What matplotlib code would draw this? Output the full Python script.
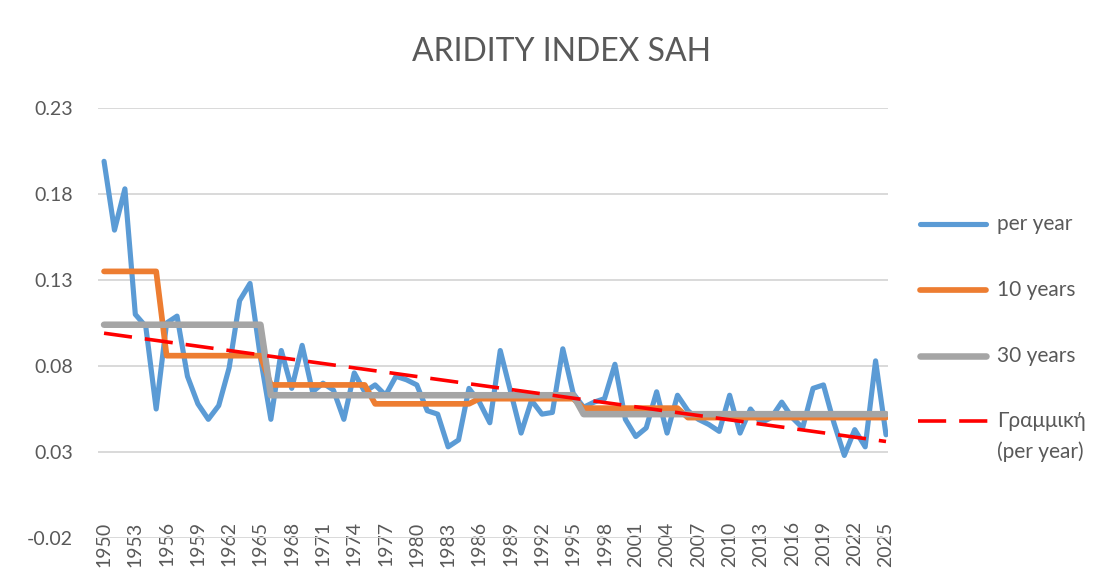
import matplotlib
matplotlib.use("Agg")
import matplotlib.pyplot as plt
from matplotlib.lines import Line2D
import numpy as np

plt.rcParams['font.family'] = ['Lato', 'Noto Sans', 'DejaVu Sans']

# aridity index per year, 1950 - 2025
years = np.arange(1950, 2026)
per_year = [0.199, 0.159, 0.183, 0.110, 0.103, 0.055, 0.105, 0.109, 0.074, 0.058,
            0.049, 0.057, 0.079, 0.118, 0.128, 0.085, 0.049, 0.089, 0.067, 0.092,
            0.065, 0.070, 0.066, 0.049, 0.076, 0.065, 0.069, 0.063, 0.074, 0.072,
            0.069, 0.054, 0.052, 0.033, 0.037, 0.067, 0.059, 0.047, 0.089, 0.065,
            0.041, 0.060, 0.052, 0.053, 0.090, 0.064, 0.056, 0.059, 0.061, 0.081,
            0.049, 0.039, 0.044, 0.065, 0.041, 0.063, 0.054, 0.049, 0.046, 0.042,
            0.063, 0.041, 0.055, 0.047, 0.050, 0.059, 0.050, 0.044, 0.067, 0.069,
            0.047, 0.028, 0.043, 0.033, 0.083, 0.040]

# 10 year periods (first one is 1950-1955)
ten_len = [6, 10, 10, 10, 10, 10, 10, 10]
ten_val = [0.135, 0.086, 0.069, 0.058, 0.061, 0.0555, 0.050, 0.050]

# 30 year periods (first one is 1950-1965)
thirty_len = [16, 30, 30]
thirty_val = [0.104, 0.063, 0.052]

ten_years = np.repeat(ten_val, ten_len)
thirty_years = np.repeat(thirty_val, thirty_len)

# linear trendline of per year series
coef = np.polyfit(years, per_year, 1)
trend = np.polyval(coef, years)

txt = '#595959'
W, H = 1109, 574

fig = plt.figure(figsize=(W / 100, H / 100), dpi=100)
ax = fig.add_axes([98 / W, 36 / H, 790 / W, 430 / H])

ax.plot(years, per_year, color='#5B9BD5', lw=3.7, solid_capstyle='round', solid_joinstyle='round', zorder=3)
ax.plot(years, ten_years, color='#ED7D31', lw=4.1, solid_capstyle='round', solid_joinstyle='round', zorder=4)
ax.plot(years, thirty_years, color='#A5A5A5', lw=4.7, solid_capstyle='round', solid_joinstyle='round', zorder=5)
ax.plot(years, trend, color='#FF0000', lw=2.6, dashes=(7.8, 3.6), zorder=6)

ax.set_xlim(1949.42, 2025.19)
ax.set_ylim(-0.02, 0.23)
ax.set_yticks([-0.02, 0.03, 0.08, 0.13, 0.18, 0.23])
ax.set_yticklabels(['-0.02', '0.03', '0.08', '0.13', '0.18', '0.23'])
ax.set_xticks(years[::3])
ax.set_xticklabels([str(y) for y in years[::3]], rotation=90, va='top', ha='center')
ax.grid(axis='y', color='#D9D9D9', lw=1.4, zorder=0)
ax.set_axisbelow(True)
for s in ax.spines.values():
    s.set_visible(False)
ax.tick_params(axis='both', length=0, labelsize=14, labelcolor=txt)
ax.tick_params(axis='y', pad=18)
ax.tick_params(axis='x', pad=-12)

fig.text(0.506, 1 - 52 / H, 'ARIDITY INDEX SAH', ha='center', va='center', fontsize=23, color=txt)

# legend on the right
entries = [('per year', '#5B9BD5', 3.7, '-', 224),
           ('10 years', '#ED7D31', 4.1, '-', 290),
           ('30 years', '#A5A5A5', 4.7, '-', 356),
           ('Γραμμική', '#FF0000', 2.6, '--', 421)]
for label, col, lw, ls, yp in entries:
    y = 1 - yp / H
    if ls == '--':
        ln = Line2D([918 / W, 988 / W], [y, y], color=col, lw=lw, dashes=(7.8, 3.6), transform=fig.transFigure)
    else:
        ln = Line2D([920 / W, 986 / W], [y, y], color=col, lw=lw, solid_capstyle='round', transform=fig.transFigure)
    fig.add_artist(ln)
    fig.text(997 / W, y, label, ha='left', va='center', fontsize=15, color=txt)
fig.text(997 / W, 1 - 452 / H, '(per year)', ha='left', va='center', fontsize=15, color=txt)

fig.savefig('out.png', dpi=100)
